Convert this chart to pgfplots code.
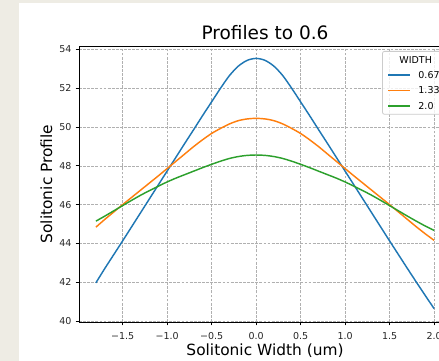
\documentclass[border=0pt]{standalone}
\usepackage{fontspec}
\setmainfont{DejaVu Sans}
\usepackage{pgfplots}
\pgfplotsset{compat=1.18}
\definecolor{mplblue}{HTML}{1F77B4}
\definecolor{mplorange}{HTML}{FF7F0E}
\definecolor{mplgreen}{HTML}{2CA02C}
\definecolor{bgbeige}{HTML}{EEECE4}
\definecolor{gridgray}{HTML}{B0B0B0}
\definecolor{legframe}{HTML}{CCCCCC}
\begin{document}
\begin{tikzpicture}[x=1pt,y=1pt]
\useasboundingbox (0,0) rectangle (439,361);
\clip (0,0) rectangle (439,361);
\fill[bgbeige] (0,0) rectangle (439,361);
\fill[white] (19,0) rectangle (439,358);
\begin{axis}[
  at={(79pt,39pt)}, anchor=south west,
  scale only axis, width=372pt, height=276pt,
  xmin=-1.99, xmax=2.19, ymin=39.95, ymax=54.18,
  xtick={-1.5,-1,-0.5,0,0.5,1,1.5,2},
  xticklabels={−1.5,−1.0,−0.5,0.0,0.5,1.0,1.5,2.0},
  ytick={40,42,44,46,48,50,52,54},
  yticklabels={40,42,44,46,48,50,52,54},
  tick pos=left, tick align=outside, major tick length=3.4pt,
  tick style={black, line width=0.8pt},
  axis line style={black, line width=0.8pt},
  tick label style={font=\fontsize{9.5}{11}\selectfont, text=black!85, inner sep=0pt},
  xticklabel style={anchor=north, yshift=-6.5pt},
  yticklabel style={anchor=east, xshift=-4pt},
  xmajorgrids, ymajorgrids,
  major grid style={gridgray, line width=0.7pt, dash pattern=on 2.85pt off 1.25pt},
  title={Profiles to 0.6},
  every axis title shift=0pt,
  title style={font=\fontsize{18.5}{22}\selectfont, at={(axis description cs:0.5,1)}, anchor=base, yshift=6pt},
  xlabel={Solitonic Width (um)},
  ylabel={Solitonic Profile},
  xlabel style={font=\fontsize{15.4}{18}\selectfont, at={(axis description cs:0.5,0)}, anchor=base, yshift=-33.5pt},
  ylabel style={font=\fontsize{15.4}{18}\selectfont, at={(axis description cs:0,0.5)}, anchor=base, yshift=27pt},
  legend cell align=left,
  legend image code/.code={\draw[#1, line width=1.45pt] (0pt,0pt) -- (22pt,0pt);},
  legend style={at={(rel axis cs:1,1)}, anchor=north east, xshift=-6pt, yshift=-5pt,
    draw=legframe, line width=0.8pt, rounded corners=2pt, fill=white, fill opacity=0.8, text opacity=1,
    font=\fontsize{9.5}{11}\selectfont, inner sep=5pt, row sep=8.3pt, column sep=7.5pt,
    nodes={inner sep=0pt, text height=7pt, text depth=0pt}},
]
\addlegendimage{empty legend}
\addlegendentry{\hspace*{-19pt}WIDTH}
\addplot[mplblue, line width=1.45pt, smooth, tension=0.5] coordinates {
(-1.8,41.97)(-1.7,42.71)(-1.6,43.42)(-1.5,44.13)(-1.4,44.85)(-1.3,45.57)(-1.2,46.29)(-1.1,47.01)(-1.0,47.73)(-0.9,48.45)(-0.8,49.17)(-0.7,49.88)(-0.6,50.60)(-0.5,51.30)(-0.4,52.00)(-0.3,52.65)(-0.2,53.14)(-0.1,53.44)(0,53.54)(0.1,53.44)(0.2,53.14)(0.3,52.65)(0.4,52.00)(0.5,51.30)(0.6,50.60)(0.7,49.88)(0.8,49.17)(0.9,48.45)(1.0,47.73)(1.1,47.01)(1.2,46.29)(1.3,45.57)(1.4,44.85)(1.5,44.13)(1.6,43.42)(1.7,42.71)(1.8,42.01)(1.9,41.32)(2.0,40.64)};
\addlegendentry{0.67}
\addplot[mplorange, line width=1.45pt, smooth, tension=0.5] coordinates {
(-1.8,44.84)(-1.7,45.24)(-1.6,45.62)(-1.5,46.00)(-1.4,46.37)(-1.3,46.74)(-1.2,47.11)(-1.1,47.48)(-1.0,47.86)(-0.9,48.24)(-0.8,48.62)(-0.7,49.00)(-0.6,49.35)(-0.5,49.67)(-0.4,49.93)(-0.3,50.16)(-0.2,50.33)(-0.1,50.42)(0,50.45)(0.1,50.42)(0.2,50.33)(0.3,50.16)(0.4,49.93)(0.5,49.67)(0.6,49.35)(0.7,49.00)(0.8,48.62)(0.9,48.24)(1.0,47.86)(1.1,47.48)(1.2,47.11)(1.3,46.74)(1.4,46.37)(1.5,46.00)(1.6,45.62)(1.7,45.24)(1.8,44.86)(1.9,44.50)(2.0,44.16)};
\addlegendentry{1.33}
\addplot[mplgreen, line width=1.45pt, smooth, tension=0.5] coordinates {
(-1.8,45.15)(-1.7,45.41)(-1.6,45.68)(-1.5,45.95)(-1.4,46.22)(-1.3,46.48)(-1.2,46.72)(-1.1,46.95)(-1.0,47.17)(-0.9,47.37)(-0.8,47.55)(-0.7,47.73)(-0.6,47.91)(-0.5,48.08)(-0.4,48.24)(-0.3,48.38)(-0.2,48.48)(-0.1,48.54)(0,48.56)(0.1,48.54)(0.2,48.48)(0.3,48.38)(0.4,48.24)(0.5,48.08)(0.6,47.91)(0.7,47.73)(0.8,47.55)(0.9,47.37)(1.0,47.17)(1.1,46.95)(1.2,46.72)(1.3,46.48)(1.4,46.22)(1.5,45.95)(1.6,45.68)(1.7,45.41)(1.8,45.15)(1.9,44.90)(2.0,44.67)};
\addlegendentry{2.0}
\end{axis}
\end{tikzpicture}
\end{document}
